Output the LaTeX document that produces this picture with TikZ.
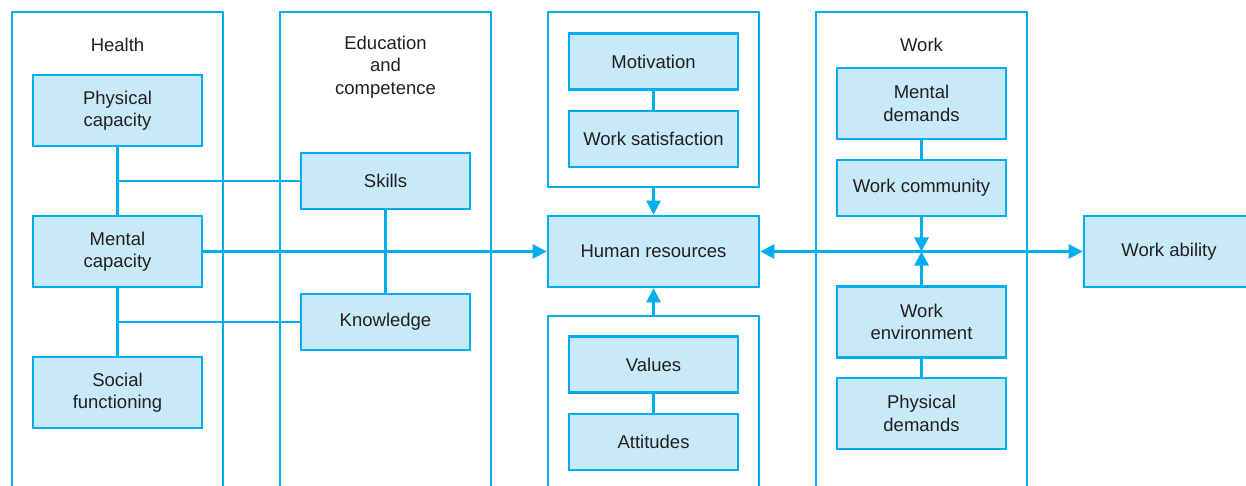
\documentclass[tikz,border=0pt]{standalone}
\usepackage{fontspec}
\setmainfont{Liberation Sans}
\usetikzlibrary{arrows.meta}
\definecolor{cyanline}{HTML}{00AEEF}
\definecolor{cyanfill}{HTML}{C8E9F8}
\definecolor{txt}{HTML}{231F20}
\begin{document}
\begin{tikzpicture}[x=1pt,y=-1pt,
  every node/.style={font=\fontsize{18.5}{22.5}\selectfont, text=txt, align=center, inner sep=0pt},
  box/.style={draw=cyanline, fill=cyanfill, line width=2.6pt, minimum width=169pt},
  tall/.style={box, minimum height=71pt},
  short/.style={box, minimum height=56pt},
  frame/.style={draw=cyanline, line width=2.6pt},
  conn/.style={draw=cyanline, line width=2.6pt},
  arr/.style={conn, -{Triangle[length=14pt,width=14pt]}},
]
\useasboundingbox (0,0) rectangle (1246,486);
% containers
\draw[frame] (12,490) -- (12,12) -- (223,12) -- (223,490);
\draw[frame] (280,490) -- (280,12) -- (491,12) -- (491,490);
\draw[frame] (816,490) -- (816,12) -- (1027,12) -- (1027,490);
\node[frame, minimum width=211pt, minimum height=175pt] (midtop) at (653.5,99.5) {};
\draw[frame] (548,490) -- (548,316) -- (759,316) -- (759,490);
\coordinate (midbot) at (653.5,316);
% labels
\node (lhealth) at (117.5,45) {Health};
\node (ledu) at (385.5,67) {Education\\and\\competence};
\node (lwork) at (921.5,45) {Work};
% boxes
\node[tall] (phys) at (117.5,110.5) {Physical\\capacity};
\node[tall] (ment) at (117.5,251.5) {Mental\\capacity};
\node[tall] (soc) at (117.5,392.5) {Social\\functioning};
\node[short] (skills) at (385.5,181) {Skills};
\node[short] (know) at (385.5,322) {Knowledge};
\node[short] (motiv) at (653.5,61.5) {Motivation};
\node[short] (sat) at (653.5,139) {Work satisfaction};
\node[box, minimum width=211pt, minimum height=71pt] (hr) at (653.5,251.5) {Human resources};
\node[short] (vals) at (653.5,364.5) {Values};
\node[short] (att) at (653.5,442) {Attitudes};
\node[tall] (mdem) at (921.5,103.5) {Mental\\demands};
\node[short] (comm) at (921.5,188) {Work community};
\node[tall] (env) at (921.5,322) {Work\\environment};
\node[tall] (pdem) at (921.5,413.5) {Physical\\demands};
\node[box, minimum width=170pt, minimum height=71pt] (abil) at (1169,251.5) {Work ability};
\coordinate (junc) at (921.5,251.5);
% connectors
\draw[conn] (phys.south) -- (ment.north);
\draw[conn] (ment.south) -- (soc.north);
\draw[conn] (117.5,181) -- (skills.west);
\draw[conn] (117.5,322) -- (know.west);
\draw[conn] (skills.south) -- (know.north);
\draw[arr] (ment.east) -- (hr.west);
\draw[conn] (motiv.south) -- (sat.north);
\draw[arr] (midtop.south) -- (hr.north);
\draw[arr] (midbot) -- (hr.south);
\draw[conn] (vals.south) -- (att.north);
\draw[conn] (mdem.south) -- (comm.north);
\draw[arr] (junc) -- (hr.east);
\draw[arr] (junc) -- (abil.west);
\draw[arr] (comm.south) -- (junc);
\draw[arr] (env.north) -- (junc);
\draw[conn] (env.south) -- (pdem.north);
\end{tikzpicture}
\end{document}
